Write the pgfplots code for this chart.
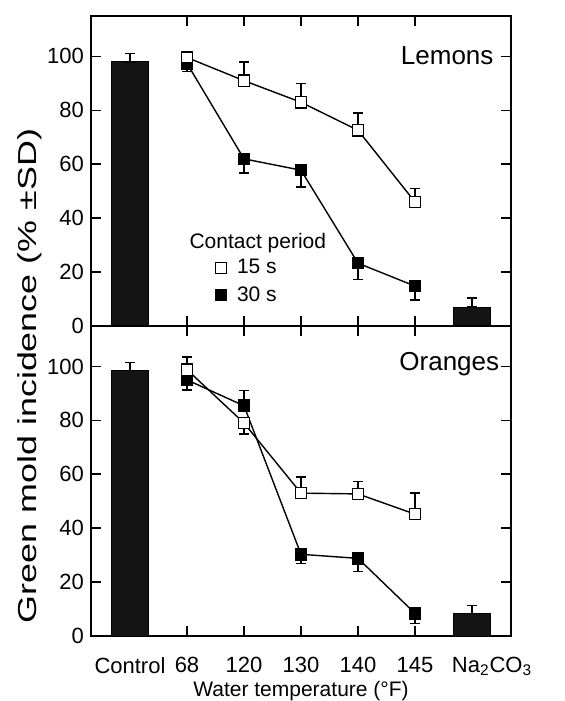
\documentclass[border=0pt]{standalone}
\usepackage{fontspec}
\setmainfont{Liberation Sans}
\usepackage{pgfplots}
\pgfplotsset{compat=1.18}

\pgfplotsset{
  panel/.style={
    scale only axis, width=210pt, height=155pt,
    xmin=-0.684, xmax=6.684, ymin=0, ymax=115,
    axis line style={line width=1pt},
    tick align=inside, major tick length=5pt,
    tick style={line width=0.8pt, black},
    xtick={1,...,5}, ytick={0,20,...,100},
    /pgf/number format/assume math mode=true,
    ticklabel style={font=\fontsize{11}{13}\selectfont},
    legend style={draw=none, fill=none, font=\fontsize{10.5}{12}\selectfont, row sep=1pt},
    legend cell align=left,
  },
  ebars/.style={
    /pgfplots/error bars/y dir=both,
    /pgfplots/error bars/y explicit,
    /pgfplots/error bars/error mark options={rotate=90, mark size=2.6pt, line width=0.7pt, black},
    /pgfplots/error bars/error bar style={line width=0.7pt, black}},
  open/.style={black, line width=0.7pt, mark=square*, mark size=2.8pt,
    mark options={fill=white, solid}, ebars},
  filled/.style={black, line width=0.7pt, mark=square*, mark size=2.8pt,
    mark options={fill=black, solid}, ebars},
  bars/.style={ybar, bar width=18.5pt, fill=black!92, draw=black, ebars},
  keymark/.style={legend image code/.code={
    \path[draw=none, fill=none] (-3pt,0pt) -- (6pt,0pt);
    \draw[##1] plot coordinates {(0pt,0pt)};}},
}

\begin{document}
\begin{tikzpicture}
\useasboundingbox (0,0) rectangle (282.5pt,350.5pt);

% Lemons
\begin{axis}[panel, at={(45.5pt,187.5pt)}, anchor=south west, xticklabels={},
  legend style={at={(axis cs:1.38,28)}, anchor=north west}]
\addplot[bars, forget plot] coordinates {(0,98) += (0,3) -= (0,0) (6,7) += (0,3.4) -= (0,0)};
\addplot[filled, forget plot] coordinates {
  (1,97.4) += (0,0) -= (0,3)
  (2,62) += (0,0) -= (0,5.3)
  (3,57.8) += (0,0) -= (0,6.3)
  (4,23.3) += (0,0) -= (0,6)
  (5,14.8) += (0,0) -= (0,5.2)};
\addplot[open, forget plot] coordinates {
  (1,99.6) += (0,1) -= (0,0)
  (2,91) += (0,7) -= (0,0)
  (3,83) += (0,7) -= (0,0)
  (4,72.6) += (0,6.4) -= (0,0)
  (5,46) += (0,5) -= (0,0)};
\addlegendimage{keymark, only marks, mark=square*, mark size=2.8pt, mark options={fill=white, draw=black}}
\addlegendentry{15 s}
\addlegendimage{keymark, only marks, mark=square*, mark size=2.8pt, mark options={fill=black, draw=black}}
\addlegendentry{30 s}
\node[anchor=west, font=\fontsize{10.5}{12}\selectfont] at (axis cs:0.92,30.7) {Contact period};
\node[anchor=east, font=\fontsize{13}{15}\selectfont] at (axis cs:6.5,100.2) {Lemons};
\end{axis}

% Oranges
\begin{axis}[panel, at={(45.5pt,32.5pt)}, anchor=south west,
  xticklabels={68,120,130,140,145},
  extra x ticks={0,6},
  extra x tick labels={Control,\hspace*{20pt}Na\textsubscript{2}CO\textsubscript{3}},
  extra x tick style={major tick length=0pt},
  xticklabel style={yshift=-7pt},
  xlabel={Water temperature (°F)},
  xlabel style={font=\fontsize{10.5}{12}\selectfont, yshift=4pt}]
\addplot[bars] coordinates {(0,98.5) += (0,3) -= (0,0) (6,8.4) += (0,3) -= (0,0)};
\addplot[filled] coordinates {
  (1,95) += (0,0) -= (0,3.7)
  (2,85.4) += (0,5.6) -= (0,0)
  (3,30.3) += (0,0) -= (0,3.3)
  (4,28.8) += (0,0) -= (0,4.9)
  (5,8.4) += (0,0) -= (0,3.7)};
\addplot[open] coordinates {
  (1,98.8) += (0,4.7) -= (0,0)
  (2,79) += (0,0) -= (0,4.1)
  (3,53) += (0,6) -= (0,0)
  (4,52.7) += (0,4.6) -= (0,0)
  (5,45.2) += (0,7.8) -= (0,0)};
\node[anchor=east, font=\fontsize{13}{15}\selectfont] at (axis cs:6.6,101) {Oranges};
\end{axis}

\node[rotate=90] at (15pt,162.5pt)
  {\scalebox{1.38}[1]{\fontsize{13}{15}\selectfont Green mold incidence (\% ±SD)}};
\end{tikzpicture}
\end{document}
